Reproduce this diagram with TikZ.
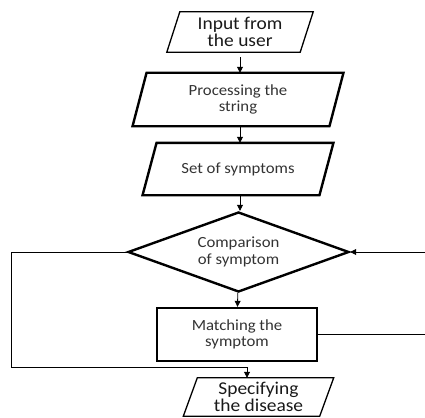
\documentclass[tikz,border=0pt]{standalone}
\usepackage{fontspec}
\setmainfont{Carlito}[FakeStretch=1.08]
\usetikzlibrary{arrows.meta, shapes.geometric}

\tikzset{
  % parallelogram: #1 = slant, #2 = line width
  iobox/.style 2 args={rectangle, align=center, inner sep=0pt, text=black!80,
    append after command={\pgfextra{\draw[line width=#2]
      ([xshift=#1/2]\tikzlastnode.north west) -- ([xshift=#1/2]\tikzlastnode.north east)
      -- ([xshift=-#1/2]\tikzlastnode.south east) -- ([xshift=-#1/2]\tikzlastnode.south west)
      -- cycle;}}},
  procbox/.style={draw, line width=2.4pt, align=center, inner sep=1pt, text=black!80},
  flow/.style={-{Triangle[length=6pt,width=6pt]}, line width=0.8pt},
  smalltxt/.style={font=\fontsize{15.5}{16.5}\selectfont},
  bigtxt/.style={font=\fontsize{18}{16.5}\selectfont}
}

\begin{document}
\begin{tikzpicture}[x=1pt,y=-1pt]
\useasboundingbox (0,0) rectangle (425,417);

\node[iobox={13pt}{1.3pt}, bigtxt, text=black!90, minimum width=133pt,
  minimum height=40pt] (input) at (240,32) {Input from\\the user};
\node[iobox={14pt}{2.4pt}, smalltxt, minimum width=196.5pt,
  minimum height=53pt] (process) at (238,99.5) {Processing the\\string};
\node[iobox={14pt}{2.4pt}, smalltxt, minimum width=176.5pt,
  minimum height=52pt] (symptoms) at (238,169) {Set of symptoms};
\node[diamond, procbox, smalltxt, aspect=2.7, inner sep=0pt, minimum width=221pt,
  minimum height=80pt] (compare) at (238.5,252) {Comparison\\of symptom};
\node[rectangle, procbox, smalltxt, minimum width=160pt,
  minimum height=53pt] (match) at (237,334.5) {Matching the\\symptom};
\node[iobox={14pt}{1.3pt}, bigtxt, text=black!90, minimum width=136pt,
  minimum height=38pt] (disease) at (258.5,397) {Specifying\\the disease};

% free ends at the right border and the loop on the left
\coordinate (inright) at (425,252);
\coordinate (outright) at (425,335);
\coordinate (loopleft) at (11,367);
\coordinate (drop) at (247,367);

\draw[flow, shorten <=5pt] (input.south -| 240,0) -- (process.north -| 240,0);
\draw[flow] (process.south -| 240,0) -- (symptoms.north -| 240,0);
\draw[flow] (symptoms.south -| 240,0) -- (compare.north -| 240,0);
\draw[flow] (compare) -- (match);
\draw[flow] (inright) -- (compare.east);
\draw[line width=0.8pt] (match.east) -- (match.east -| outright);
\draw[flow] (compare.west) -| (loopleft) -- (drop) -- (drop |- disease.north);
\end{tikzpicture}
\end{document}
